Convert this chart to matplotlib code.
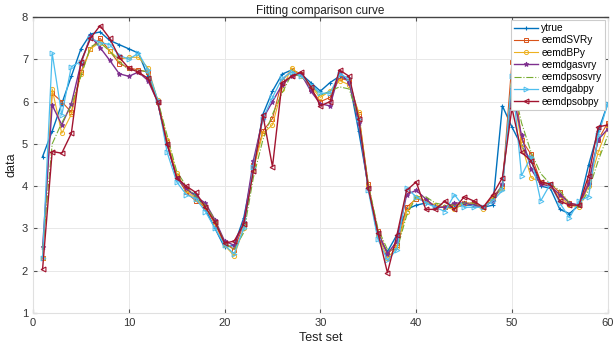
import matplotlib
matplotlib.use('Agg')
import matplotlib.pyplot as plt
import numpy as np

plt.rcParams['font.family'] = ['Liberation Sans', 'DejaVu Sans']

# Test set index
x = np.arange(1, 61)

ytrue = [4.7, 5.3, 5.95, 6.6, 7.25, 7.6, 7.65, 7.45, 7.35, 7.25,
         7.15, 6.6, 6.0, 5.0, 4.2, 3.9, 3.8, 3.45, 3.0, 2.55,
         2.6, 3.25, 4.4, 5.7, 6.25, 6.65, 6.75, 6.65, 6.45, 6.25,
         6.45, 6.6, 6.5, 5.3, 4.0, 2.8, 2.45, 2.85, 3.45, 3.55,
         3.6, 3.55, 3.5, 3.5, 3.55, 3.55, 3.5, 3.55, 5.9, 5.4,
         4.95, 4.6, 4.0, 3.95, 3.45, 3.35, 3.55, 4.5, 5.3, 5.95]
eemdSVRy = [2.3, 6.2, 6.0, 5.75, 6.7, 7.25, 7.5, 7.2, 6.9, 6.8,
            6.75, 6.7, 6.0, 5.05, 4.25, 3.85, 3.65, 3.5, 3.1, 2.65,
            2.5, 3.1, 4.5, 5.3, 5.6, 6.5, 6.75, 6.65, 6.3, 6.0,
            6.1, 6.55, 6.5, 5.7, 4.05, 2.95, 2.4, 2.6, 3.5, 3.7,
            3.65, 3.5, 3.5, 3.55, 3.6, 3.6, 3.5, 3.75, 4.0, 6.95,
            5.1, 4.75, 4.1, 4.05, 3.85, 3.6, 3.55, 4.1, 5.1, 5.5]
eemdBPy = [2.3, 6.3, 5.25, 5.7, 6.65, 7.25, 7.4, 7.2, 7.0, 7.05,
           7.05, 6.8, 6.05, 5.1, 4.3, 3.9, 3.7, 3.5, 3.15, 2.6,
           2.35, 3.0, 4.4, 5.25, 5.45, 6.3, 6.8, 6.6, 6.35, 6.1,
           6.25, 6.5, 6.4, 5.75, 4.0, 2.85, 2.3, 2.55, 3.4, 3.75,
           3.65, 3.55, 3.5, 3.45, 3.6, 3.55, 3.45, 3.7, 3.95, 6.4,
           5.0, 4.2, 4.1, 4.0, 3.75, 3.55, 3.5, 4.0, 4.8, 5.4]
eemdgasvry = [2.55, 5.92, 5.45, 5.95, 6.9, 7.55, 7.28, 6.98, 6.66, 6.6,
              6.7, 6.5, 6.0, 5.0, 4.2, 3.95, 3.75, 3.6, 3.2, 2.7,
              2.6, 3.15, 4.6, 5.6, 6.0, 6.4, 6.6, 6.65, 6.25, 5.95,
              5.9, 6.7, 6.45, 5.5, 3.95, 2.9, 2.4, 2.7, 3.8, 3.9,
              3.7, 3.5, 3.5, 3.6, 3.6, 3.55, 3.5, 3.65, 4.05, 6.3,
              5.2, 4.4, 4.05, 4.0, 3.8, 3.6, 3.55, 4.05, 5.1, 5.35]
eemdpsosvry = [2.5, 5.0, 5.5, 5.9, 6.6, 7.3, 7.4, 7.2, 6.95, 6.75,
               6.75, 6.7, 6.05, 5.2, 4.35, 4.0, 3.75, 3.55, 3.2, 2.65,
               2.5, 2.9, 4.2, 5.1, 5.7, 6.2, 6.65, 6.6, 6.4, 6.15,
               6.25, 6.35, 6.3, 5.6, 4.05, 3.0, 2.5, 2.5, 3.3, 3.75,
               3.75, 3.6, 3.55, 3.55, 3.6, 3.6, 3.5, 3.7, 4.0, 6.5,
               5.5, 4.8, 4.3, 4.05, 3.9, 3.6, 3.5, 3.9, 4.6, 5.2]
eemdgabpy = [2.3, 7.15, 5.68, 6.83, 6.95, 7.5, 7.4, 7.35, 7.1, 7.0,
             7.15, 6.75, 6.05, 4.8, 4.1, 3.8, 3.7, 3.4, 3.0, 2.6,
             2.4, 3.0, 4.45, 5.6, 6.1, 6.55, 6.7, 6.6, 6.4, 6.2,
             6.2, 6.65, 6.55, 5.6, 3.9, 2.75, 2.25, 2.5, 3.95, 3.75,
             3.6, 3.5, 3.4, 3.8, 3.5, 3.5, 3.5, 3.65, 3.9, 6.6,
             4.25, 4.7, 3.65, 4.05, 3.6, 3.25, 3.65, 3.75, 5.2, 5.95]
eemdpsobpy = [2.04, 4.82, 4.78, 5.25, 6.94, 7.5, 7.8, 7.5, 7.05, 6.79,
              6.7, 6.55, 6.0, 5.0, 4.2, 4.0, 3.85, 3.5, 3.15, 2.65,
              2.7, 3.1, 4.35, 5.68, 4.46, 6.45, 6.6, 6.7, 6.35, 5.9,
              6.0, 6.75, 6.6, 5.6, 3.95, 2.9, 1.95, 2.85, 3.9, 4.1,
              3.45, 3.45, 3.65, 3.45, 3.75, 3.65, 3.5, 3.8, 4.2, 5.85,
              4.8, 4.6, 4.1, 4.05, 3.65, 3.55, 3.55, 4.25, 5.4, 5.45]

fig = plt.figure(figsize=(6.16, 3.5), dpi=100)
ax = fig.add_axes([0.0536, 0.106, 0.933, 0.845])

ax.plot(x, ytrue, color='#0072BD', lw=1.0, marker='+', ms=3, mew=0.8, label='ytrue')
ax.plot(x, eemdSVRy, color='#D95319', lw=0.8, marker='s', ms=2.5, mfc='none', mew=0.7, label='eemdSVRy')
ax.plot(x, eemdBPy, color='#EDB120', lw=0.8, marker='o', ms=3, mfc='none', mew=0.7, label='eemdBPy')
ax.plot(x, eemdgasvry, color='#7E2F8E', lw=1.0, marker='*', ms=3.5, mew=0.7, label='eemdgasvry')
ax.plot(x, eemdpsosvry, color='#77AC30', lw=0.8, ls='-.', label='eemdpsosvry')
ax.plot(x, eemdgabpy, color='#4DBEEE', lw=0.9, marker='>', ms=3.5, mfc='none', mew=0.7, label='eemdgabpy')
ax.plot(x, eemdpsobpy, color='#A2142F', lw=1.0, marker='<', ms=3.5, mfc='none', mew=0.8, label='eemdpsobpy')

ax.set_xlim(0, 60)
ax.set_ylim(1, 8)
ax.set_xticks(range(0, 61, 10))
ax.set_yticks(range(1, 9))
ax.grid(True, color='#e8e8e8', lw=0.7)
ax.tick_params(direction='in', length=3, labelsize=8, colors='#555555',
               labelcolor='#333333', top=True, right=True)

for side in ['left', 'bottom', 'right']:
    ax.spines[side].set_color('#e0e0e0')
ax.spines['top'].set_color('#444444')
ax.spines['top'].set_linewidth(1.0)

ax.set_title('Fitting comparison curve', fontsize=8.5, pad=2, color='#222222')
ax.set_xlabel('Test set', fontsize=9, labelpad=3, color='#222222')
ax.set_ylabel('data', fontsize=9, labelpad=3, color='#222222')

leg = ax.legend(loc='upper right', fontsize=7.3, handlelength=2.4, handletextpad=0.3,
                labelspacing=0.22, borderpad=0.3, borderaxespad=0.3,
                fancybox=False, framealpha=1)
leg.get_frame().set_edgecolor('#cccccc')
leg.get_frame().set_linewidth(0.8)

fig.savefig('out.png', dpi=100)
